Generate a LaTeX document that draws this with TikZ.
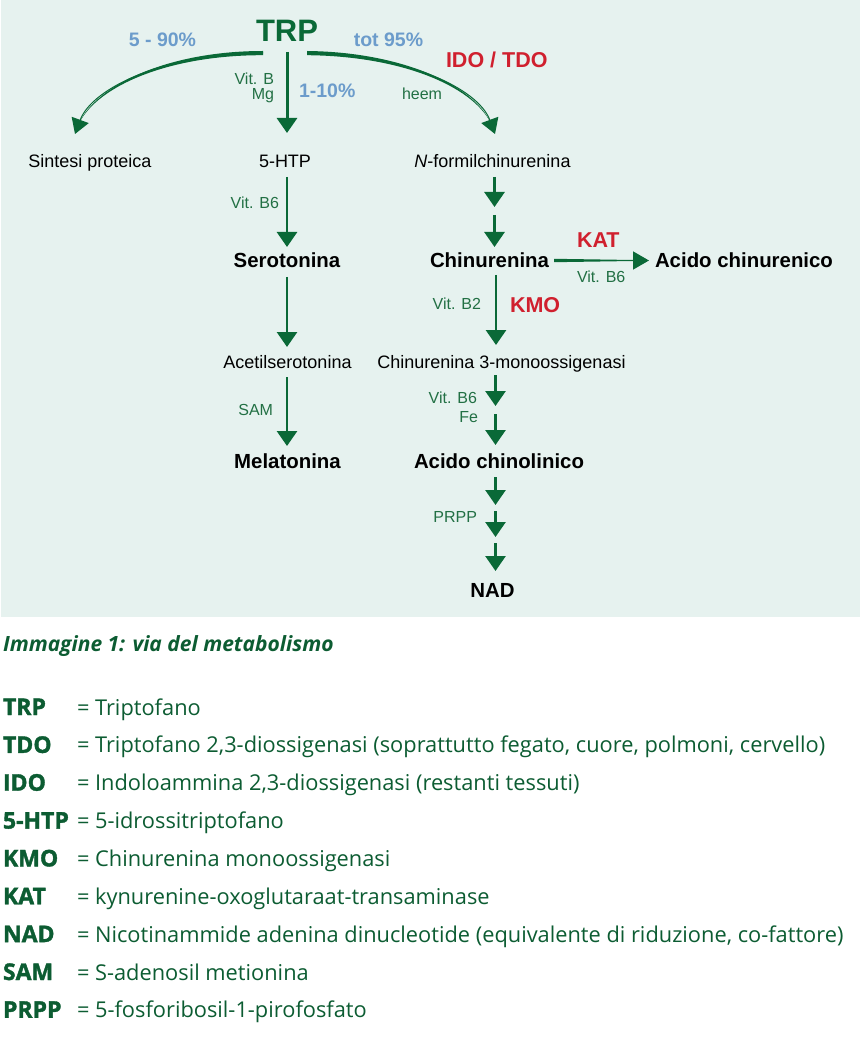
\documentclass[tikz,border=0pt]{standalone}
\usepackage{fontspec}
\setmainfont{Liberation Sans}
\newfontfamily\legfont{Open Sans}
\newfontfamily\legabbr[BoldFeatures={FakeBold=1.6}]{Open Sans}
\usetikzlibrary{arrows.meta}
\definecolor{bgc}{RGB}{230,242,239}
\definecolor{dkgreen}{RGB}{10,105,55}
\definecolor{lblgreen}{RGB}{34,112,68}
\definecolor{legreen}{RGB}{12,92,50}
\definecolor{pctblue}{RGB}{108,156,203}
\definecolor{enzred}{RGB}{208,32,46}
\begin{document}
\begin{tikzpicture}[x=1pt,y=-1pt,
  every node/.style={inner sep=0pt, outer sep=0pt},
  main/.style={font=\fontsize{18}{20}\selectfont, anchor=base},
  bmain/.style={font=\fontsize{20.4}{22}\selectfont\bfseries, anchor=base},
  cof/.style={font=\fontsize{16}{18}\selectfont, text=lblgreen},
  pct/.style={font=\fontsize{19.5}{22}\selectfont\bfseries, text=pctblue, anchor=base},
  enz/.style={font=\fontsize{21.5}{24}\selectfont\bfseries, text=enzred},
  arr/.style={draw=dkgreen, line width=2.8pt, -{Triangle[length=15pt,width=20pt]}},
  carr/.style={draw=dkgreen, line width=1pt, -{Triangle[length=15pt,width=18pt]}},
  taper/.style={fill=dkgreen},
  abbr/.style={font=\legabbr\fontsize{23}{24}\selectfont\bfseries, text=legreen, anchor=base west},
  expl/.style={font=\legfont\fontsize{21.8}{24}\selectfont, text=legreen, anchor=base west}
]
\useasboundingbox (0,0) rectangle (862,1048);
\fill[bgc] (1,0) rectangle (860,617);

% ---- nodes ----
\node[font=\fontsize{31}{34}\selectfont\bfseries, text=dkgreen, anchor=base] (trp) at (287,42) {TRP};
\node[pct] (p1) at (162.5,47) {5 - 90\%};
\node[pct] (p2) at (388.5,47) {tot 95\%};
\node[enz, anchor=base west] (idotdo) at (446,68) {IDO / TDO};
\node[cof, anchor=base east] (vb) at (274,85) {Vit. B};
\node[cof, anchor=base east] (mg) at (274,100) {Mg};
\node[pct, anchor=base west] (p3) at (299,98) {1-10\%};
\node[cof, anchor=base west] (heem) at (402,100) {heem};
\node[main] (sint) at (90,168) {Sintesi proteica};
\node[main] (htp) at (285,168) {5-HTP};
\node[main] (nf) at (492.5,168) {\textit{N}-formilchinurenina};
\node[cof, anchor=base east] (vb6a) at (279,209) {Vit. B6};
\node[bmain] (sero) at (287,268) {Serotonina};
\node[bmain] (chin) at (489.5,268) {Chinurenina};
\node[bmain, anchor=base west] (acch) at (655,268) {Acido chinurenico};
\node[enz, anchor=base west] (kat) at (577,248) {KAT};
\node[cof, anchor=base west] (vb6b) at (577,283) {Vit. B6};
\node[cof, anchor=base east] (vb2) at (481,309) {Vit. B2};
\node[enz, anchor=base west] (kmo) at (510,312) {KMO};
\node[main] (acet) at (287.5,368) {Acetilserotonina};
\node[main] (c3m) at (501.5,368) {Chinurenina 3-monoossigenasi};
\node[cof, anchor=base east] (sam) at (273,415) {SAM};
\node[cof, anchor=base east] (vb6c) at (477,403) {Vit. B6};
\node[cof, anchor=base east] (fe) at (478,422) {Fe};
\node[bmain] (mela) at (287.5,468) {Melatonina};
\node[bmain] (acq) at (499,468) {Acido chinolinico};
\node[cof, anchor=base east] (prpp) at (477,522) {PRPP};
\node[bmain] (nad) at (492.5,597) {NAD};

% ---- connector end points ----
\coordinate (tL) at (263,53);  \coordinate (eL) at (75,134);
\coordinate (tR) at (307,53);  \coordinate (eR) at (495,134);
\coordinate (tM) at (287,52);  \coordinate (eM) at (287,133);
\coordinate (a1) at (287,177); \coordinate (b1) at (287,247);
\coordinate (a2) at (287,277); \coordinate (b2) at (287,347);
\coordinate (a3) at (287,377); \coordinate (b3) at (287,446);
\coordinate (r1) at (494.5,177); \coordinate (s1) at (494.5,207);
\coordinate (r2) at (494.5,215); \coordinate (s2) at (494.5,247);
\coordinate (r3) at (496,275);   \coordinate (s3) at (496,345);
\coordinate (r4) at (495.5,375); \coordinate (s4) at (495.5,406);
\coordinate (r5) at (495.5,414); \coordinate (s5) at (495.5,445);
\coordinate (r6) at (495.5,477); \coordinate (s6) at (495.5,505);
\coordinate (r7) at (495.5,511); \coordinate (s7) at (495.5,537);
\coordinate (r8) at (495.5,543); \coordinate (s8) at (495.5,571);
\coordinate (k0) at (554,260.5); \coordinate (k1) at (649,260.5);

% ---- curved arrows from TRP ----
\draw[carr] (tL) .. controls (165,53) and (92,88) .. (eL);
\fill[taper] (263,51) .. controls (165,51) and (91.5,87.5) .. (77.5,127)
   .. controls (92.5,88.5) and (165,55) .. (263,55.2) -- cycle;
\draw[carr] (tR) .. controls (405,54) and (478,88) .. (eR);
\fill[taper] (307,51) .. controls (405,52) and (478.5,87.5) .. (492.5,127)
   .. controls (477.5,88.5) and (405,56) .. (307,55.2) -- cycle;
\draw[arr, line width=3pt] (tM) -- (eM);

% ---- straight arrows ----
\draw[arr] (a1) -- (b1);
\draw[arr] (a2) -- (b2);
\draw[arr] (a3) -- (b3);
\foreach \i in {1,...,8} { \draw[arr] (r\i) -- (s\i); }
\draw[draw=dkgreen, line width=1.6pt, -{Triangle[length=16pt,width=18pt]}] (k0) -- (k1);
\fill[taper] (554,258.8) -- (633,260) -- (633,261) -- (554,262.2) -- cycle;

% ---- legend ----
\node[font=\legfont\fontsize{21}{24}\selectfont\bfseries\itshape, text=legreen, anchor=base west] (cap) at (3,651) {Immagine 1: via del metabolismo};
\node[abbr] (l1) at (3,715) {TRP};   \node[expl] (d1) at (77,715) {= Triptofano};
\node[abbr] (l2) at (3,752.9) {TDO}; \node[expl] (d2) at (77,752.9) {= Triptofano 2,3-diossigenasi (soprattutto fegato, cuore, polmoni, cervello)};
\node[abbr] (l3) at (3,790.7) {IDO}; \node[expl] (d3) at (77,790.7) {= Indoloammina 2,3-diossigenasi (restanti tessuti)};
\node[abbr] (l4) at (3,828.6) {5-HTP}; \node[expl] (d4) at (77,828.6) {= 5-idrossitriptofano};
\node[abbr] (l5) at (3,866.4) {KMO}; \node[expl] (d5) at (77,866.4) {= Chinurenina monoossigenasi};
\node[abbr] (l6) at (3,904.3) {KAT}; \node[expl] (d6) at (77,904.3) {= kynurenine-oxoglutaraat-transaminase};
\node[abbr] (l7) at (3,942.1) {NAD}; \node[expl] (d7) at (77,942.1) {= Nicotinammide adenina dinucleotide (equivalente di riduzione, co-fattore)};
\node[abbr] (l8) at (3,980) {SAM}; \node[expl] (d8) at (77,980) {= S-adenosil metionina};
\node[abbr] (l9) at (3,1017.8) {PRPP}; \node[expl] (d9) at (77,1017.8) {= 5-fosforibosil-1-pirofosfato};
\end{tikzpicture}
\end{document}
